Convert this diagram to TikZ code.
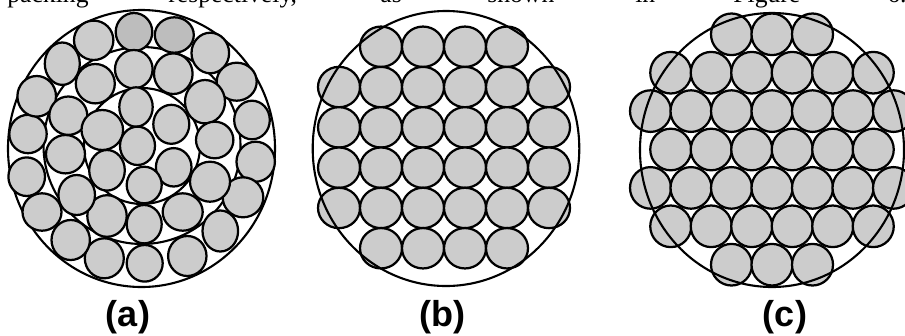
\documentclass[tikz,border=0pt]{standalone}
\usepackage{fontspec}
\setmainfont{Liberation Serif}
\setsansfont{Liberation Sans}
\usepackage{tikz}
\usetikzlibrary{positioning}

\begin{document}
\begin{tikzpicture}[x=0.2mm, y=-0.2mm,
    soi/.style={fill=black!20, line width=0.45mm},
    soitoi/.style={soi, fill=black!26},
    vo/.style={line width=0.42mm},
    chu/.style={font=\fontsize{14.6}{17}\selectfont, anchor=base west, inner sep=0pt},
    nhan/.style={font=\sffamily\bfseries\fontsize{20.5}{24}\selectfont, anchor=base, inner sep=0pt}]
    \useasboundingbox (0,0) rectangle (905,335);
    \clip (0,0) rectangle (905,335);

    % Dòng chữ bị cắt ở trên
    \foreach \x/\t [count=\i] in {7/packing, 168/{respectively,}, 380/as, 487/shown,
        635/in, 733/Figure, 887/6.} {
        \node[chu] (chu\i) at (\x,2) {\t};
    }

    % Hình (a): ba vòng tròn
    \draw[vo] (141.5,148.5) ellipse [x radius=133.5, y radius=138.5];
    \draw[vo] (142,145.5) circle [radius=98.5];
    \draw[vo] (142,146) circle [radius=58];
    % lớp ngoài
    \foreach \x/\y/\a/\b in {210.3/53/18.8/20.3, 236.7/81.7/20/19, 252/120/17.8/19.3,
        255.7/161.7/19.2/20, 243/197.3/20.3/20, 220.3/231/17.8/20.5, 187.3/256/19.2/20,
        144.7/263.3/18/18.3, 104.3/258.3/19.5/20, 70.7/240/19.2/20, 42/212/19.5/18.7,
        26.7/176.7/18.3/19.3, 28/134/18.7/19.2, 36.7/96.3/19.3/20.3, 62.3/63.7/17.5/21.2,
        93.7/40.3/19.7/19.7} {
        \draw[soi] (\x,\y) ellipse [x radius=\a, y radius=\b];
    }
    \foreach \x/\y/\a/\b in {134/32/18.3/19, 174.3/35/19.5/17.7} {
        \draw[soitoi] (\x,\y) ellipse [x radius=\a, y radius=\b];
    }
    % lớp giữa
    \foreach \x/\y/\a/\b in {133.8/69.2/18.8/19.2, 173.3/73.7/19.3/20.3, 205/101.7/20/21.7,
        214.7/140/18.7/18.3, 210/181.7/20/20, 182.7/212/20/18.7, 144.2/224.2/17.5/19.2,
        107/216/19.7/20.8, 76.7/195/18.3/20, 65.5/154.2/19.5/19.2, 68.3/115.7/19/19.2,
        95.3/83.7/19.5/19.7} {
        \draw[soi] (\x,\y) ellipse [x radius=\a, y radius=\b];
    }
    % lớp trong
    \foreach \x/\y/\a/\b in {136/107/16.7/19.7, 171.3/124.3/18/19.5, 102.3/130/20.8/20,
        137.5/145.8/17.5/19.2, 173.7/167.3/17.8/19.2, 107/170.3/17.8/20.3,
        144.2/185/17.5/18.3} {
        \draw[soi] (\x,\y) ellipse [x radius=\a, y radius=\b];
    }
    \node[nhan] (nhana) at (128,326) {(a)};

    % Hình (b): xếp vuông
    \foreach \i in {-2.5,-1.5,...,2.5} {
        \foreach \j in {-2.5,-1.5,...,2.5} {
            \pgfmathparse{(abs(\i)>2 && abs(\j)>2) ? 0 : 1}
            \ifnum\pgfmathresult=1
                \draw[soi] ({444+42*\i},{147.5+40.3*\j}) ellipse [x radius=21, y radius=20.2];
            \fi
        }
    }
    \draw[vo] (446,148.5) ellipse [x radius=133.3, y radius=137.5];
    \node[nhan] (nhanb) at (442,326) {(b)};

    % Hình (c): xếp lục giác
    \foreach \j/\a/\b in {-3/-1/1, -2/-2.5/2.5, -1/-3/3, 0/-2.5/2.5, 1/-3/3, 2/-2.5/2.5, 3/-1/1} {
        \foreach \i in {\a,...,\b} {
            \draw[soi] ({772+40.5*\i},{149.5+38.4*\j}) ellipse [x radius=20.5, y radius=20.8];
        }
    }
    \draw[vo] (772,150) ellipse [x radius=132, y radius=137];
    \node[nhan] (nhanc) at (785,326) {(c)};
\end{tikzpicture}
\end{document}
